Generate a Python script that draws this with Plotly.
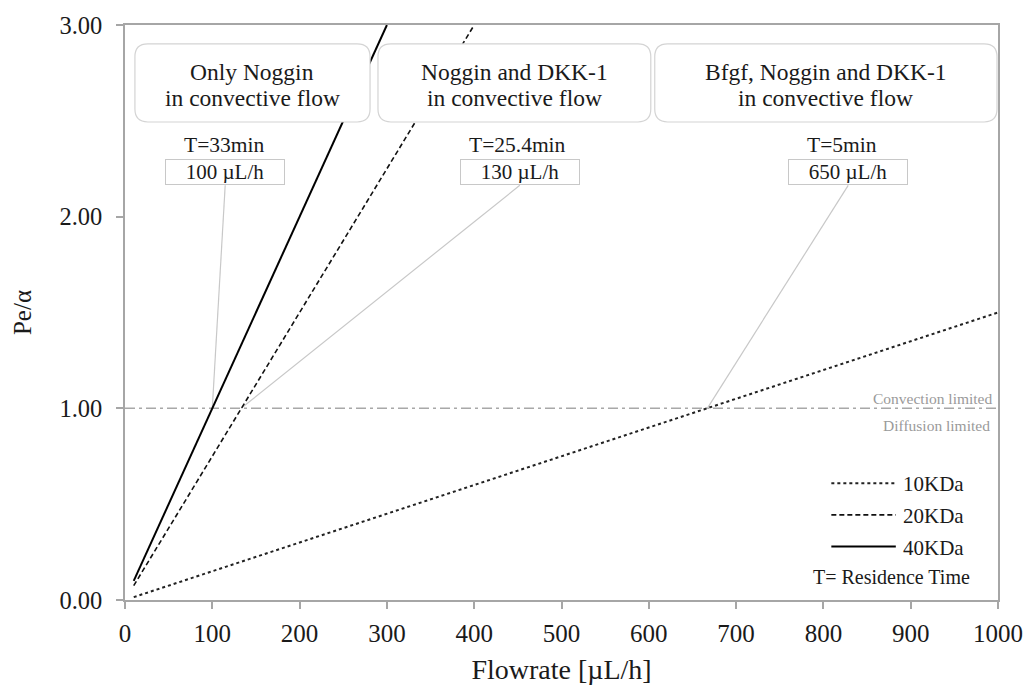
import plotly.graph_objects as go

# Flowrate [µL/h] and Pe/alpha for each molecular weight
flow_10kda = [10, 100, 200, 300, 400, 500, 600, 700, 800, 900, 1000]
pe_10kda = [0.015, 0.15, 0.30, 0.45, 0.60, 0.75, 0.90, 1.05, 1.20, 1.35, 1.50]
flow_20kda = [10, 100, 200, 300, 400]
pe_20kda = [0.075, 0.75, 1.50, 2.25, 3.00]
flow_40kda = [10, 100, 200, 300]
pe_40kda = [0.10, 1.00, 2.00, 3.00]

# Convection / diffusion threshold
threshold = 1.0

# Flow regimes: heading, residence time, selected flowrate, crossing flowrate at Pe/alpha = 1
regime_titles = ["Only Noggin<br>in convective flow",
                 "Noggin and DKK-1<br>in convective flow",
                 "Bfgf, Noggin and DKK-1<br>in convective flow"]
residence_times = ["T=33min", "T=25.4min", "T=5min"]
selected_flows = [100, 130, 650]
crossing_flows = [100, 133, 667]

x_ticks = [0, 100, 200, 300, 400, 500, 600, 700, 800, 900, 1000]
y_ticks = [0.0, 1.0, 2.0, 3.0]

FONT = "Liberation Serif"
TEXT = "#1a1a1a"

# Plot-area geometry in pixels
L, R, T, B = 125, 30, 22, 89
W_FIG, H_FIG = 1035, 692
PW, PH = W_FIG - L - R, H_FIG - T - B


def px(x):
    return (x - L) / PW


def py(y):
    return (H_FIG - B - y) / PH


def rounded_box(x0, x1, y0, y1, r=13):
    """Rounded rectangle path in paper coordinates from pixel bounds."""
    ax0, ax1 = px(x0), px(x1)
    ay0, ay1 = py(y0), py(y1)  # ay0 top, ay1 bottom
    rx, ry = r / PW, r / PH
    return (f"M {ax0 + rx},{ay0} L {ax1 - rx},{ay0} Q {ax1},{ay0} {ax1},{ay0 - ry} "
            f"L {ax1},{ay1 + ry} Q {ax1},{ay1} {ax1 - rx},{ay1} "
            f"L {ax0 + rx},{ay1} Q {ax0},{ay1} {ax0},{ay1 + ry} "
            f"L {ax0},{ay0 - ry} Q {ax0},{ay0} {ax0 + rx},{ay0} Z")


fig = go.Figure()

fig.add_trace(go.Scatter(x=flow_10kda, y=pe_10kda, mode="lines", name="10KDa",
                         line=dict(color="#222222", width=2, dash="dot")))
fig.add_trace(go.Scatter(x=flow_20kda, y=pe_20kda, mode="lines", name="20KDa",
                         line=dict(color="#111111", width=1.6, dash="5px,3px")))
fig.add_trace(go.Scatter(x=flow_40kda, y=pe_40kda, mode="lines", name="40KDa",
                         line=dict(color="#000000", width=2)))

shapes = []
annotations = []

# Threshold line
shapes.append(dict(type="line", xref="paper", yref="y", x0=0, x1=1, y0=threshold, y1=threshold,
                   line=dict(color="#a8a8a8", width=1.5, dash="10px,4px,3px,4px"), layer="below"))
annotations.append(dict(xref="paper", yref="paper", x=px(1001), y=py(399), xanchor="right",
                        yanchor="middle", showarrow=False, text="Convection limited",
                        font=dict(family=FONT, size=15.5, color="#9a9a9a")))
annotations.append(dict(xref="paper", yref="paper", x=px(999), y=py(427), xanchor="right",
                        yanchor="middle", showarrow=False, text="Diffusion limited",
                        font=dict(family=FONT, size=15.5, color="#9a9a9a")))

# Regime headings in rounded boxes, one annotation per text line
box_bounds = [(135, 372), (380, 655), (659, 1004)]
line_centers = [69, 96]
for (bx0, bx1), title in zip(box_bounds, regime_titles):
    shapes.append(dict(type="path", xref="paper", yref="paper", path=rounded_box(bx0, bx1, 41, 120),
                       line=dict(color="#d4d4d4", width=1.2), fillcolor="white", layer="above"))
    for part, ly in zip(title.split("<br>"), line_centers):
        annotations.append(dict(xref="paper", yref="paper", x=px((bx0 + bx1) / 2), y=py(ly),
                                xanchor="center", yanchor="middle", showarrow=False, text=part,
                                font=dict(family=FONT, size=23.5, color=TEXT)))

# Residence time, selected flowrate and leader to the threshold crossing
label_centers = [226, 523, 854]
time_centers = [225, 521, 848]
for cx, tx, tlabel, flow, cross in zip(label_centers, time_centers, residence_times,
                                       selected_flows, crossing_flows):
    annotations.append(dict(xref="paper", yref="paper", x=px(tx), y=py(143),
                            xanchor="center", yanchor="middle", showarrow=False, text=tlabel,
                            font=dict(family=FONT, size=21.5, color=TEXT)))
    annotations.append(dict(xref="paper", yref="paper", x=px(cx), y=py(171),
                            xanchor="center", yanchor="middle", showarrow=False,
                            text=f"{flow} µL/h", width=116, height=22, borderpad=1,
                            bordercolor="#c8c8c8", borderwidth=1, bgcolor="white",
                            font=dict(family=FONT, size=21, color=TEXT)))
    # leader start at bottom of the label box, converted into data units
    x0 = (cx - L) / PW * 1000
    y0 = (H_FIG - B - 184) / PH * 3
    shapes.append(dict(type="line", xref="x", yref="y", x0=x0, y0=y0, x1=cross, y1=threshold,
                       line=dict(color="#c8c8c8", width=1.2), layer="below"))

# Legend block
legend_rows = [("10KDa", "dot", "#222222", 2, 485),
               ("20KDa", "5px,3px", "#111111", 1.6, 517),
               ("40KDa", "solid", "#000000", 2, 549)]
for name, dash, color, width, ypix in legend_rows:
    shapes.append(dict(type="line", xref="paper", yref="paper", x0=px(837), x1=px(902),
                       y0=py(ypix), y1=py(ypix), line=dict(color=color, width=width, dash=dash)))
    annotations.append(dict(xref="paper", yref="paper", x=px(907), y=py(ypix + 1),
                            xanchor="left", yanchor="middle", showarrow=False, text=name,
                            font=dict(family=FONT, size=21, color=TEXT)))
annotations.append(dict(xref="paper", yref="paper", x=px(898), y=py(580), xanchor="center",
                        yanchor="middle", showarrow=False, text="T= Residence Time",
                        font=dict(family=FONT, size=20, color=TEXT)))

axis_line = "#a6a6a6"
fig.update_layout(
    width=W_FIG, height=H_FIG,
    margin=dict(l=L, r=R, t=T, b=B),
    paper_bgcolor="white", plot_bgcolor="white",
    showlegend=False,
    font=dict(family=FONT, color=TEXT),
    shapes=shapes,
    annotations=annotations,
    xaxis=dict(range=[0, 1000], tickvals=x_ticks, ticktext=[str(v) for v in x_ticks],
               showgrid=False, zeroline=False, showline=True, mirror=True,
               linecolor=axis_line, linewidth=1.5, ticks="outside", ticklen=7,
               tickcolor=axis_line, tickwidth=1.5, ticklabelstandoff=3,
               tickfont=dict(family=FONT, size=25, color=TEXT),
               title=dict(text="Flowrate [µL/h]", standoff=14,
                          font=dict(family=FONT, size=28, color=TEXT))),
    yaxis=dict(range=[0, 3], tickvals=y_ticks, tickformat=".2f",
               showgrid=False, zeroline=False, showline=True, mirror=True,
               linecolor=axis_line, linewidth=1.5, ticks="outside", ticklen=7,
               tickcolor=axis_line, tickwidth=1.5, ticklabelstandoff=9,
               tickfont=dict(family=FONT, size=24.5, color=TEXT),
               title=dict(text="Pe/α", standoff=21,
                          font=dict(family=FONT, size=25, color=TEXT))),
)

fig.write_html("out.html")
